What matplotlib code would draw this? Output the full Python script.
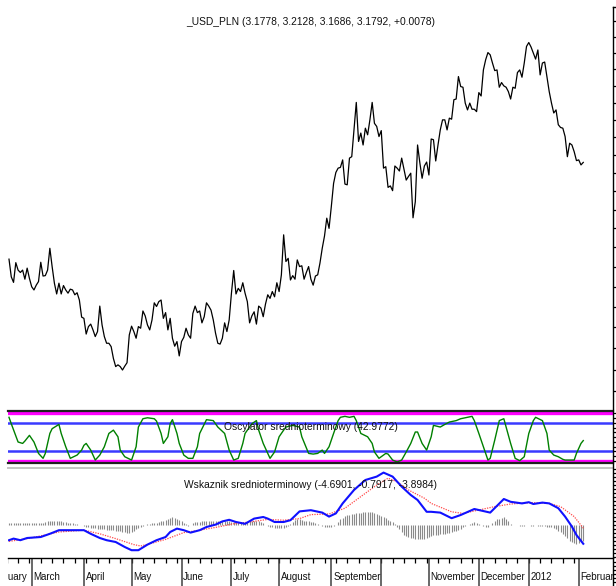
import numpy as np
import pandas as pd
import matplotlib
matplotlib.use("Agg")
import matplotlib.pyplot as plt
from matplotlib.lines import Line2D

# no narrow font installed, so a plain sans at a size that matches the text widths
plt.rcParams['font.family'] = ['Liberation Sans', 'DejaVu Sans']
fs = 7.35
fs_month = 7.0

# daily close, USD/PLN, from 2011-02-15
close = [
    2.920, 2.875, 2.861, 2.911, 2.892, 2.886, 2.892, 2.869, 2.897, 2.871,
    2.850, 2.842, 2.854, 2.863, 2.912, 2.877, 2.878, 2.892, 2.948, 2.901,
    2.859, 2.832, 2.859, 2.832, 2.853, 2.842, 2.834, 2.844, 2.842, 2.830,
    2.835, 2.817, 2.775, 2.772, 2.734, 2.752, 2.758, 2.744, 2.728, 2.740,
    2.802, 2.756, 2.728, 2.712, 2.712, 2.704, 2.676, 2.657, 2.661, 2.657,
    2.649, 2.658, 2.666, 2.732, 2.753, 2.740, 2.724, 2.752, 2.748, 2.790,
    2.778, 2.756, 2.744, 2.768, 2.810, 2.801, 2.813, 2.817, 2.772, 2.786,
    2.744, 2.772, 2.724, 2.705, 2.716, 2.682, 2.716, 2.726, 2.748, 2.732,
    2.724, 2.784, 2.802, 2.786, 2.790, 2.761, 2.776, 2.810, 2.802, 2.792,
    2.768, 2.736, 2.712, 2.710, 2.724, 2.761, 2.740, 2.768, 2.834, 2.891,
    2.832, 2.846, 2.838, 2.860, 2.834, 2.813, 2.761, 2.778, 2.788, 2.758,
    2.802, 2.797, 2.776, 2.807, 2.830, 2.821, 2.838, 2.825, 2.860, 2.838,
    2.880, 2.983, 2.914, 2.922, 2.867, 2.878, 2.869, 2.918, 2.901, 2.903,
    2.869, 2.886, 2.901, 2.869, 2.854, 2.877, 2.880, 2.910, 2.948, 2.980,
    3.027, 3.000, 3.058, 3.121, 3.151, 3.163, 3.165, 3.186, 3.119, 3.117,
    3.191, 3.195, 3.271, 3.351, 3.238, 3.262, 3.228, 3.276, 3.257, 3.300,
    3.351, 3.290, 3.281, 3.252, 3.269, 3.163, 3.167, 3.110, 3.114, 3.101,
    3.169, 3.163, 3.155, 3.191, 3.160, 3.130, 3.140, 3.149, 3.028, 3.071,
    3.228, 3.178, 3.135, 3.169, 3.180, 3.144, 3.245, 3.243, 3.183, 3.228,
    3.271, 3.300, 3.300, 3.271, 3.305, 3.302, 3.359, 3.361, 3.428, 3.398,
    3.396, 3.349, 3.329, 3.349, 3.331, 3.331, 3.324, 3.380, 3.370, 3.448,
    3.479, 3.501, 3.494, 3.469, 3.446, 3.448, 3.396, 3.410, 3.400, 3.396,
    3.383, 3.361, 3.396, 3.393, 3.440, 3.448, 3.426, 3.469, 3.520, 3.532,
    3.518, 3.499, 3.481, 3.509, 3.433, 3.469, 3.472, 3.428, 3.383, 3.349,
    3.320, 3.329, 3.286, 3.278, 3.276, 3.252, 3.195, 3.233, 3.228, 3.209,
    3.184, 3.186, 3.172, 3.179,
]

# oscillator (day index, value)
osc_day = [0, 1, 4, 6, 7, 9, 11, 13, 15, 16, 18, 19, 22, 23, 25, 27, 30, 32, 33, 34,
           36, 38, 40, 42, 44, 46, 48, 49, 51, 54, 56, 57, 59, 61, 64, 65, 67, 68, 70, 71,
           72, 74, 75, 77, 79, 81, 83, 84, 87, 90, 92, 95, 97, 99, 101, 103, 104, 107, 109, 110,
           112, 114, 115, 117, 119, 121, 122, 125, 128, 129, 132, 134, 136, 138, 139, 141, 143, 145, 146, 148,
           150, 152, 153, 154, 155, 158, 160, 161, 163, 166, 167, 169, 171, 173, 175, 177, 179, 180, 182, 184,
           186, 187, 190, 192, 194, 197, 199, 202, 204, 205, 207, 209, 211, 212, 214, 216, 218, 219, 221, 223,
           225, 227, 229, 231, 232, 235, 237, 238, 240, 242, 244, 245, 249, 250, 252, 253]
osc_val = [92, 78.5, 40, 37, 42, 54, 40, 16, 5.6, 16, 58, 68, 77, 58, 30, 5.6, 12.5, 23, 33, 37,
           23, 2, 12.5, 30, 58, 65, 51, 23, 9, 2, 30, 71.5, 89, 91, 89, 84, 58, 37, 51, 78.5,
           87, 58, 37, 12.5, 5.6, 5.6, 30, 58, 87, 85, 71.5, 58, 23, 2, 5.6, 37, 58, 78.5, 85, 65,
           37, 16, 5.6, 19, 51, 65, 71.5, 75, 71.5, 51, 16, 14.6, 16, 23, 16, 30, 58, 85, 92, 94,
           92, 94, 85, 71.5, 58, 51, 37, 19, 5.6, 16, 14.6, 2, -2, 2, 19, 37, 61, 61, 37, 23,
           51, 75, 71.5, 77, 82, 85, 89, 92, 94, 85, 58, 30, 2, 5.6, 44, 85, 89, 71.5, 37, 5.6,
           0.7, 9, 58, 85, 92, 85, 58, 23, 12.5, 9, 3.5, 2, 2, 16, 37, 42.98]

# medium-term indicator line and signal (day index, value)
macd_day = [0, 2, 5, 8, 14, 18, 22, 33, 36, 40, 43, 47, 51, 54, 57, 61, 65, 69, 71, 74,
            77, 80, 84, 87, 91, 94, 97, 100, 104, 108, 112, 114, 117, 121, 124, 128, 133, 138, 141, 144,
            147, 152, 157, 162, 165, 169, 173, 177, 180, 184, 186, 190, 195, 199, 205, 212, 218, 221, 226, 229,
            231, 235, 238, 242, 245, 248, 250, 253]
macd_val = [-3.8, -3.4, -3.8, -3.25, -3.0, -2.2, -1.3, -1.3, -2.2, -3.25, -3.8, -4.25, -5.5, -6.3, -6.3, -4.9, -3.8, -3.0, -1.75, -0.9,
            -1.3, -1.9, -1.3, -0.5, 0.1, 0.9, 1.3, 0.75, 0.3, 1.6, 2.0, 1.6, 0.75, 0.75, 1.2, 3.4, 3.7, 3.1, 2.1, 2.9,
            5.4, 8.75, 11.25, 12.1, 13.1, 12.1, 9.6, 7.5, 6.25, 3.3, 3.3, 3.1, 1.7, 2.5, 4.0, 3.1, 6.5, 5.8, 5.4, 5.7,
            5.25, 5.6, 5.4, 4.2, 2.1, -0.4, -2.5, -4.6901]
sig_day = [0, 8, 15, 22, 33, 40, 47, 55, 58, 62, 69, 77, 84, 92, 99, 106, 114, 121, 128, 133,
           141, 148, 155, 162, 167, 171, 176, 183, 186, 195, 200, 207, 214, 221, 230, 238, 243, 249, 253]
sig_val = [-4.1, -3.4, -2.6, -1.75, -1.3, -2.2, -3.4, -4.9, -5.25, -4.7, -3.6, -1.9, -1.3, -0.5, 0.3, 0.75, 1.4, 1.2, 1.6, 2.6,
           2.75, 4.2, 7.1, 10.0, 11.7, 10.8, 8.75, 6.7, 5.4, 3.3, 2.9, 3.75, 4.6, 5.25, 5.6, 5.4, 4.6, 2.1, -0.7917]

hist = [
    0.5, 0.5, 0.4, 0.4, 0.5, 0.5, 0.5, 0.4, 0.4, 0.5,
    0.5, 0.5, 0.6, 0.5, 0.5, 0.6, 0.7, 0.9, 1.0, 0.9,
    0.9, 1.0, 1.0, 0.9, 0.8, 0.8, 0.6, 0.5, 0.4, 0.3,
    0.2, 0.1, -0.1, -0.3, -0.4, -0.6, -0.7, -0.8, -0.8, -0.9,
    -1.0, -1.0, -1.1, -1.2, -1.2, -1.3, -1.3, -1.4, -1.5, -1.6,
    -1.7, -1.8, -1.9, -1.9, -1.7, -1.4, -1.0, -0.7, -0.4, -0.2,
    0.0, 0.2, 0.3, 0.4, 0.5, 0.6, 0.7, 0.9, 1.1, 1.3,
    1.5, 1.7, 1.9, 1.7, 1.5, 1.3, 1.0, 0.6, 0.2, -0.2,
    0.1, 0.4, 0.7, 0.8, 0.8, 0.9, 0.9, 1.0, 1.0, 1.0,
    0.9, 1.0, 1.0, 1.1, 1.1, 1.0, 0.9, 0.9, 0.8, 0.7,
    0.7, 0.6, 0.6, 0.7, 0.7, 0.8, 1.0, 1.1, 1.1, 1.0,
    0.9, 0.7, 0.4, 0.1, -0.2, -0.4, -0.6, -0.7, -0.8, -0.8,
    -0.8, -0.7, -0.6, -0.3, 0.2, 0.8, 1.3, 1.5, 1.4, 1.3,
    1.1, 1.0, 0.9, 0.8, 0.7, 0.5, 0.2, 0.0, -0.3, -0.6,
    -0.6, -0.6, -0.5, -0.3, 0.1, 0.7, 1.4, 1.8, 2.2, 2.5,
    2.6, 2.7, 2.8, 2.9, 3.0, 3.1, 3.2, 3.2, 3.3, 3.3,
    3.2, 3.0, 2.8, 2.5, 2.3, 2.0, 1.7, 1.3, 1.0, 0.7,
    0.2, -0.4, -1.0, -1.7, -2.4, -2.8, -3.1, -3.2, -3.3, -3.4,
    -3.4, -3.5, -3.5, -3.5, -3.3, -3.0, -2.8, -2.6, -2.5, -2.4,
    -2.3, -2.3, -2.2, -2.1, -2.0, -1.8, -1.6, -1.4, -1.2, -0.9,
    -0.6, -0.3, 0.0, 0.3, 0.5, 0.7, 0.6, 0.3, 0.0, -0.3,
    -0.6, -0.4, 0.0, 0.5, 1.0, 1.4, 1.6, 1.8, 1.9, 1.6,
    1.0, 0.3, 0.1, 0.0, -0.1, -0.2, -0.2, -0.2, -0.1, -0.1,
    -0.2, -0.2, -0.1, -0.2, -0.2, -0.3, -0.3, -0.4, -0.5, -0.6,
    -0.7, -1.0, -1.4, -1.8, -2.3, -2.8, -3.3, -3.9, -4.2, -4.5,
    -4.7, -4.6, -4.3, -3.8984,
]

month_labels = ['February', 'March', 'April', 'May', 'June', 'July', 'August',
                'September', '', 'November', 'December', '2012', 'February']

title_main = "_USD_PLN (3.1778, 3.2128, 3.1686, 3.1792, +0.0078)"
title_osc = "Oscylator srednioterminowy (42.9772)"
title_ind = "Wskaznik srednioterminowy (-4.6901, -0.7917, -3.8984)"

# x positions: trading day index
days = pd.bdate_range("2011-02-15", periods=len(close))
full = pd.bdate_range("2011-02-01", days[-1])
offset = list(full).index(days[0])
pos = np.arange(len(full)) - offset
month_start = pos[np.r_[True, full.month[1:] != full.month[:-1]]]
mondays = pos[full.dayofweek == 0]
idx = np.arange(len(close))

W, H = 616, 586
fig = plt.figure(figsize=(W / 100, H / 100), dpi=100)
L = 7.5 / W
WD = 605.5 / W
xlim = (-0.66, 266.1)


def rect(top, bottom):
    return [L, 1 - bottom / H, WD, (bottom - top) / H]


txt_color = '#111111'


def right_ticks(ax, ticks):
    ax.yaxis.tick_right()
    ax.set_yticks(ticks)
    ax.tick_params(axis='y', direction='out', length=2.6, width=0.9, labelright=False, color='black')
    ax.set_xticks([])
    ax.set_xlim(*xlim)


# price panel
ax1 = fig.add_axes(rect(7, 411))
ax1.plot(idx, close, color='black', lw=0.9)
ax1.set_yscale('log')
ax1.set_ylim(2.5553, 3.644)
right_ticks(ax1, np.round(np.arange(2.60, 3.601, 0.05), 2))
ax1.yaxis.set_minor_locator(matplotlib.ticker.NullLocator())
for s in ax1.spines.values():
    s.set_visible(False)
ax1.text(0.501, 0.963, title_main, transform=ax1.transAxes, ha='center', va='center',
         fontsize=fs, color=txt_color)

# oscillator panel
ax2 = fig.add_axes(rect(411, 463))
ax2.set_ylim(-4.21, 105.26)
right_ticks(ax2, np.arange(0, 101, 10))
for s in ['left', 'right']:
    ax2.spines[s].set_visible(False)
for s in ['top', 'bottom']:
    ax2.spines[s].set_linewidth(1.6)
    ax2.spines[s].set_color('#202020')
ax2.axhline(100, color='#ff00ff', lw=2.4)
ax2.axhline(0, color='#ff00ff', lw=2.4)
ax2.axhline(80, color='#3a3aff', lw=1.8)
ax2.axhline(20, color='#3a3aff', lw=1.8)
ax2.plot(osc_day, osc_val, color='#008000', lw=1.0)
ax2.text(0.501, 0.69, title_osc, transform=ax2.transAxes, ha='center', va='center',
         fontsize=fs, color=txt_color)

# indicator panel
ax3 = fig.add_axes(rect(468, 558))
ax3.set_ylim(-8.25, 14.25)
right_ticks(ax3, np.arange(-8, 15, 1))
for s in ['left', 'right', 'bottom']:
    ax3.spines[s].set_visible(False)
ax3.spines['top'].set_color('#c4c4c4')
ax3.spines['top'].set_linewidth(1.4)
ax3.vlines(idx, 0, hist, color='#8a8a8a', lw=0.8)
ax3.plot(sig_day, sig_val, color='#ff4a4a', lw=0.9, linestyle=(0, (1, 1)))
ax3.plot(macd_day, macd_val, color='#1010ff', lw=1.5)
ax3.text(0.501, 0.811, title_ind, transform=ax3.transAxes, ha='center', va='center',
         fontsize=fs, color=txt_color)

# date strip
ax4 = fig.add_axes(rect(558, H))
ax4.set_xlim(*xlim)
ax4.set_ylim(0, 1)
ax4.set_xticks([])
ax4.yaxis.tick_right()
ax4.set_yticks(np.arange(0.15, 1.0, 4 / 28))
ax4.tick_params(axis='y', direction='out', length=2.6, width=0.9, labelright=False)
for s in ['left', 'right', 'bottom']:
    ax4.spines[s].set_visible(False)
ax4.spines['top'].set_linewidth(1.0)
ax4.vlines(mondays, 1 - 4.5 / 28, 1, color='black', lw=0.9)
ax4.vlines(month_start, 0, 1, color='#404040', lw=1.1)
for p, lab in zip(month_start, month_labels):
    ax4.text(p + 0.8, 0.33, lab, ha='left', va='center', fontsize=fs_month,
             color=txt_color, clip_on=True)

# right border running through all panels
xr = 613 / W
fig.add_artist(Line2D([xr, xr], [0, 1 - 7 / H], color='black', lw=1.0))
fig.add_artist(Line2D([xr, 1], [1 - 7 / H, 1 - 7 / H], color='black', lw=1.0))

fig.savefig("out.png", dpi=100)
